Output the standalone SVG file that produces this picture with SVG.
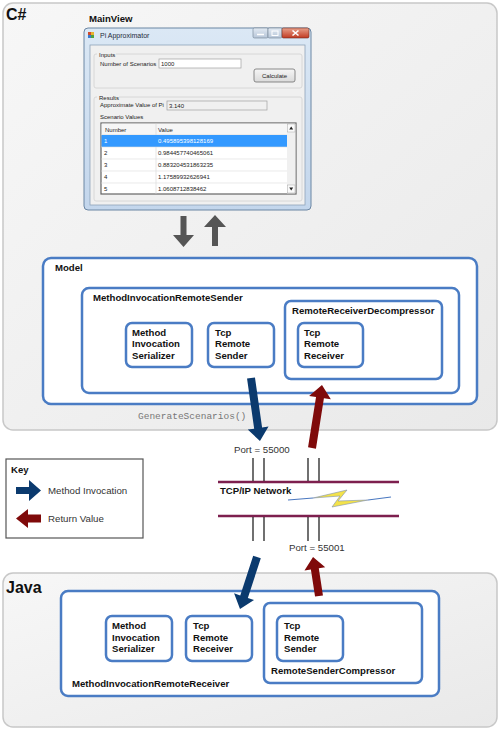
<svg xmlns="http://www.w3.org/2000/svg" width="500" height="730" viewBox="0 0 500 730">
<defs>
<linearGradient id="panel" x1="0" y1="0" x2="1" y2="1">
<stop offset="0" stop-color="#f7f7f7"/><stop offset="1" stop-color="#e9e9e9"/>
</linearGradient>
<linearGradient id="aero" x1="0" y1="0" x2="0" y2="1">
<stop offset="0" stop-color="#dbe8f5"/><stop offset="1" stop-color="#c3d6ec"/>
</linearGradient>
<linearGradient id="btn" x1="0" y1="0" x2="0" y2="1">
<stop offset="0" stop-color="#f6f6f6"/><stop offset="1" stop-color="#dadada"/>
</linearGradient>
<linearGradient id="close" x1="0" y1="0" x2="0" y2="1">
<stop offset="0" stop-color="#e8a08a"/><stop offset="1" stop-color="#c13a22"/>
</linearGradient>
<linearGradient id="minmax" x1="0" y1="0" x2="0" y2="1">
<stop offset="0" stop-color="#e2eaf3"/><stop offset="1" stop-color="#b7c6d8"/>
</linearGradient>
</defs>
<style>
.panel{fill:url(#panel);stroke:#c8c8c8;stroke-width:1.5}
.box{fill:#ffffff;stroke:#4a7cc4;stroke-width:2.5}
.lbl{font-family:"Liberation Sans",Arial,sans-serif;font-weight:bold;font-size:9.6px;fill:#111}
.big{font-family:"Liberation Sans",Arial,sans-serif;font-weight:bold;font-size:16px;fill:#111}
.reg{font-family:"Liberation Sans",Arial,sans-serif;font-size:9.7px;fill:#333}
.mono{font-family:"Liberation Mono","Courier New",monospace;font-size:9.5px;fill:#777}
.win{font-family:"Liberation Sans",Arial,sans-serif;font-size:6px;fill:#222}
.grp{fill:none;stroke:#d0d0d0;stroke-width:0.8}
.port{stroke:#111;stroke-width:1.2}
.net{stroke:#7d1f4e;stroke-width:2.5}
.blue{fill:#0b3a6e}
.red{fill:#7f0a0a}
.gray{fill:#555555}
</style>

<g id="panel-csharp">
<rect class="panel" x="3" y="3" width="494" height="427" rx="10"/>
<text class="big" x="6" y="20">C#</text>
</g>

<g id="panel-java">
<rect class="panel" x="3" y="573" width="494" height="154" rx="10"/>
<text class="big" x="6" y="593">Java</text>
</g>

<g id="mainview">
<text class="lbl" x="89" y="22">MainView</text>
<rect x="84" y="28" width="227" height="182" rx="4" fill="url(#aero)" stroke="#6b86a3" stroke-width="1"/>
<rect x="88" y="32" width="3" height="3" fill="#d04a2a"/><rect x="91" y="32" width="3" height="3" fill="#e8b030"/>
<rect x="88" y="35" width="3" height="3" fill="#3a7ad0"/><rect x="91" y="35" width="3" height="3" fill="#50a040"/>
<text x="100" y="38" style="font-family:'Liberation Sans',Arial,sans-serif;font-size:7px;fill:#1e2a3a">Pi Approximator</text>
<rect x="253" y="28" width="15" height="10" rx="1.5" fill="url(#minmax)" stroke="#6f7f92" stroke-width="0.6"/>
<rect x="268" y="28" width="14" height="10" rx="1.5" fill="url(#minmax)" stroke="#6f7f92" stroke-width="0.6"/>
<rect x="282" y="28" width="27" height="10" rx="1.5" fill="url(#close)" stroke="#6f2a20" stroke-width="0.6"/>
<line x1="257" y1="34.5" x2="264" y2="34.5" stroke="#ffffff" stroke-width="1.5"/>
<rect x="272" y="31" width="6" height="4.5" fill="none" stroke="#ffffff" stroke-width="1"/>
<path d="M292.5,30.5 L298.5,35.5 M298.5,30.5 L292.5,35.5" stroke="#ffffff" stroke-width="1.6"/>
<rect x="90" y="45" width="215" height="160" fill="#f0f0f0" stroke="#8ea3ba" stroke-width="0.8"/>
<rect class="grp" x="94" y="54" width="208" height="34" rx="2"/>
<rect x="97" y="51" width="19" height="6" fill="#f0f0f0"/>
<text class="win" x="99" y="57">Inputs</text>
<text class="win" x="100" y="66">Number of Scenarios</text>
<rect x="159" y="59" width="82" height="9" fill="#ffffff" stroke="#a0a0a0" stroke-width="0.7"/>
<text class="win" x="161" y="66">1000</text>
<rect x="254" y="69" width="41" height="13" rx="2" fill="url(#btn)" stroke="#707070" stroke-width="0.8"/>
<text class="win" x="274.5" y="77.8" text-anchor="middle">Calculate</text>
<rect class="grp" x="94" y="97" width="208" height="104" rx="2"/>
<rect x="97" y="94" width="22" height="6" fill="#f0f0f0"/>
<text class="win" x="99" y="100">Results</text>
<text class="win" x="100" y="107">Approximate Value of Pi</text>
<rect x="167" y="101" width="100" height="9" fill="#f0f0f0" stroke="#a0a0a0" stroke-width="0.7"/>
<text class="win" x="169" y="108">3.140</text>
<text class="win" x="100" y="119">Scenario Values</text>
<rect x="101" y="123" width="195" height="71" fill="#ffffff" stroke="#646464" stroke-width="1.2"/>
<rect x="101.6" y="123.6" width="185.4" height="11.4" fill="#f6f6f6"/>
<line x1="101" y1="135" x2="287" y2="135" stroke="#d5d5d5" stroke-width="0.6"/>
<line x1="156" y1="123.6" x2="156" y2="194" stroke="#d5d5d5" stroke-width="0.6"/>
<text class="win" x="105" y="131.5">Number</text>
<text class="win" x="158" y="131.5">Value</text>
<rect x="101.6" y="135" width="185.4" height="12" fill="#3399ff"/>
<line x1="101" y1="159" x2="287" y2="159" stroke="#dcdcdc" stroke-width="0.6"/>
<line x1="101" y1="171" x2="287" y2="171" stroke="#dcdcdc" stroke-width="0.6"/>
<line x1="101" y1="183" x2="287" y2="183" stroke="#dcdcdc" stroke-width="0.6"/>
<line x1="101" y1="147" x2="287" y2="147" stroke="#dcdcdc" stroke-width="0.6"/>
<text class="win" x="104" y="143.3" style="fill:#ffffff">1</text>
<text class="win" x="158" y="143.3" style="fill:#ffffff">0.495895398128169</text>
<text class="win" x="104" y="155.2">2</text>
<text class="win" x="158" y="155.2">0.984457740465061</text>
<text class="win" x="104" y="167.2">3</text>
<text class="win" x="158" y="167.2">0.883204531863235</text>
<text class="win" x="104" y="179.2">4</text>
<text class="win" x="158" y="179.2">1.17589932626941</text>
<text class="win" x="104" y="191">5</text>
<text class="win" x="158" y="191">1.0608712838462</text>
<rect x="287" y="123.6" width="8.4" height="69.8" fill="#f0f0f0"/>
<rect x="287.5" y="124" width="7.5" height="8" fill="#fafafa" stroke="#999" stroke-width="0.4"/>
<rect x="287.5" y="185" width="7.5" height="8" fill="#fafafa" stroke="#999" stroke-width="0.4"/>
<path d="M289.2,129.5 L291.2,126.5 L293.2,129.5 Z" fill="#222"/>
<path d="M289.2,187.5 L291.2,190.5 L293.2,187.5 Z" fill="#222"/>
</g>

<g id="model">
<rect class="box" x="43" y="258" width="434" height="146" rx="8"/>
<text class="lbl" x="55" y="271">Model</text>
<text class="mono" x="138" y="419">GenerateScenarios()</text>
</g>

<g id="method-invocation-remote-sender">
<rect class="box" x="82" y="288" width="377" height="105" rx="7"/>
<text class="lbl" x="93" y="301">MethodInvocationRemoteSender</text>
</g>

<g id="remote-receiver-decompressor">
<rect class="box" x="285" y="301" width="157" height="78" rx="6"/>
<text class="lbl" x="292" y="314">RemoteReceiverDecompressor</text>
</g>

<g id="cs-method-invocation-serializer">
<rect class="box" x="126" y="323" width="66" height="44" rx="6"/>
<text class="lbl" x="132" y="335.5">Method</text>
<text class="lbl" x="132" y="347">Invocation</text>
<text class="lbl" x="132" y="358.5">Serializer</text>
</g>

<g id="cs-tcp-remote-sender">
<rect class="box" x="208" y="323" width="66" height="44" rx="6"/>
<text class="lbl" x="215" y="335.5">Tcp</text>
<text class="lbl" x="215" y="347">Remote</text>
<text class="lbl" x="215" y="358.5">Sender</text>
</g>

<g id="cs-tcp-remote-receiver">
<rect class="box" x="298" y="323" width="65" height="44" rx="6"/>
<text class="lbl" x="304" y="335.5">Tcp</text>
<text class="lbl" x="304" y="347">Remote</text>
<text class="lbl" x="304" y="358.5">Receiver</text>
</g>

<g id="method-invocation-remote-receiver">
<rect class="box" x="61" y="591" width="378" height="105" rx="7"/>
<text class="lbl" x="72" y="687">MethodInvocationRemoteReceiver</text>
</g>

<g id="remote-sender-compressor">
<rect class="box" x="264" y="603" width="158" height="80" rx="6"/>
<text class="lbl" x="271" y="674">RemoteSenderCompressor</text>
</g>

<g id="java-method-invocation-serializer">
<rect class="box" x="106" y="616" width="66" height="45" rx="6"/>
<text class="lbl" x="112" y="629">Method</text>
<text class="lbl" x="112" y="640.7">Invocation</text>
<text class="lbl" x="112" y="652.3">Serializer</text>
</g>

<g id="java-tcp-remote-receiver">
<rect class="box" x="186" y="616" width="66" height="45" rx="6"/>
<text class="lbl" x="193" y="629">Tcp</text>
<text class="lbl" x="193" y="640.7">Remote</text>
<text class="lbl" x="193" y="652.3">Receiver</text>
</g>

<g id="java-tcp-remote-sender">
<rect class="box" x="277" y="616" width="66" height="45" rx="6"/>
<text class="lbl" x="284" y="629">Tcp</text>
<text class="lbl" x="284" y="640.7">Remote</text>
<text class="lbl" x="284" y="652.3">Sender</text>
</g>

<g id="network">
<line class="net" x1="218" y1="482" x2="399" y2="482"/>
<line class="net" x1="218" y1="516" x2="399" y2="516"/>
<text class="lbl" x="220" y="494">TCP/IP Network</text>
<polyline points="288,500 313,498" fill="none" stroke="#4a78c0" stroke-width="1.1"/>
<polyline points="368,500 391,497" fill="none" stroke="#4a78c0" stroke-width="1.1"/>
<polygon points="313,498 347,490 338,501 368,500 332,507 340,496" fill="#f3e24a" stroke="#7c8fb0" stroke-width="0.6"/>
<line class="port" x1="253" y1="458" x2="253" y2="481"/>
<line class="port" x1="264" y1="458" x2="264" y2="481"/>
<line class="port" x1="308" y1="458" x2="308" y2="481"/>
<line class="port" x1="319" y1="458" x2="319" y2="481"/>
<line class="port" x1="253" y1="517" x2="253" y2="541"/>
<line class="port" x1="264" y1="517" x2="264" y2="541"/>
<line class="port" x1="308" y1="517" x2="308" y2="541"/>
<line class="port" x1="319" y1="517" x2="319" y2="541"/>
<text class="reg" x="234" y="453">Port = 55000</text>
<text class="reg" x="289" y="551">Port = 55001</text>
</g>

<g id="key">
<rect x="6" y="459" width="137" height="79" fill="#ffffff" stroke="#555555" stroke-width="1.2"/>
<text class="lbl" x="11" y="473">Key</text>
<polygon class="blue" points="16,487 29,487 29,480 41,490.5 29,501 29,494 16,494"/>
<text class="reg" x="48" y="494">Method Invocation</text>
<polygon class="red" points="41,514.5 28,514.5 28,509 16,518.5 28,528 28,522.5 41,522.5"/>
<text class="reg" x="48" y="521.5">Return Value</text>
</g>

<g id="connectors">
<polygon class="gray" points="180.5,216 186.5,216 186.5,235 194,235 183.5,247 173,235 180.5,235"/>
<polygon class="gray" points="212,246 218,246 218,227 226,227 215,215 204,227 212,227"/>
<polygon class="blue" transform="translate(251,378) rotate(-8.1)" points="-4,0 4,0 4,50.6 10.5,50.6 0,63.6 -10.5,50.6 -4,50.6"/>
<polygon class="red" transform="translate(312,448) rotate(189)" points="-4,0 4,0 4,51 11,51 0,63.8 -11,51 -4,51"/>
<polygon class="blue" transform="translate(257,557) rotate(18.1)" points="-4,0 4,0 4,41.7 10.5,41.7 0,54.7 -10.5,41.7 -4,41.7"/>
<polygon class="red" transform="translate(319,596) rotate(171.3)" points="-4,0 4,0 4,27.5 10.5,27.5 0,39.5 -10.5,27.5 -4,27.5"/>
</g>
</svg>
